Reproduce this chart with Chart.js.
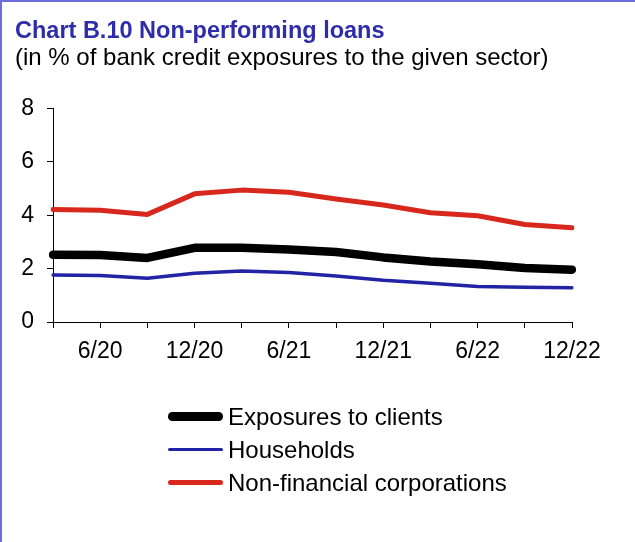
<!DOCTYPE html>
<html>
<head>
<meta charset="utf-8">
<title>Chart B.10 Non-performing loans</title>
<script src="https://cdn.jsdelivr.net/npm/chart.js@4/dist/chart.umd.min.js"></script>
<style>
    body { margin: 0; background: #fff; }
    #wrap { position: relative; width: 635px; height: 542px; overflow: hidden; }
    #chart { position: absolute; left: 0; top: 0; }
    #frame {
        position: absolute; left: 0; top: 0; width: 635px; height: 542px;
        box-sizing: border-box; border-left: 2px solid #6d6de0; border-top: 2px solid #6d6de0;
        pointer-events: none;
    }
    #legend {
        position: absolute; left: 168px; top: 400px;
        font-family: "Liberation Sans", Arial, sans-serif; font-size: 24px; color: #000;
    }
    .legend-row { display: flex; align-items: center; height: 33px; line-height: 33px; }
    .legend-line { width: 55px; margin-right: 5px; }
</style>
</head>
<body>
<div id="wrap">
    <canvas id="chart" width="635" height="542"></canvas>
    <div id="legend"></div>
    <div id="frame"></div>
</div>
<script>
// quarterly data, 3/20 .. 12/22
const periods = ['3/20', '6/20', '9/20', '12/20', '3/21', '6/21', '9/21', '12/21', '3/22', '6/22', '9/22', '12/22'];
const shownLabels = ['6/20', '12/20', '6/21', '12/21', '6/22', '12/22'];
const exposures = [2.52, 2.51, 2.40, 2.78, 2.78, 2.72, 2.62, 2.42, 2.27, 2.16, 2.02, 1.96];
const households = [1.76, 1.74, 1.64, 1.83, 1.91, 1.85, 1.72, 1.56, 1.45, 1.33, 1.30, 1.28];
const corporations = [4.21, 4.19, 4.03, 4.80, 4.94, 4.86, 4.61, 4.38, 4.09, 3.98, 3.65, 3.53];
const yTicks = [0, 2, 4, 6, 8];

const font = '"Liberation Sans", Arial, sans-serif';

function series(label, data, color, width) {
    return {
        label: label,
        data: data,
        borderColor: color,
        backgroundColor: color,
        borderWidth: width,
        borderCapStyle: 'round',
        borderJoinStyle: 'round',
        pointRadius: 0,
        tension: 0,
        fill: false
    };
}

const chart = new Chart(document.getElementById('chart'), {
    type: 'line',
    data: {
        labels: periods,
        datasets: [
            series('Exposures to clients', exposures, '#000000', 8.5),
            series('Households', households, '#2323a6', 3.5),
            series('Non-financial corporations', corporations, '#d8281e', 5)
        ]
    },
    options: {
        responsive: false,
        animation: false,
        devicePixelRatio: 1,
        layout: { padding: { left: 15, right: 63, top: 0, bottom: 180 } },
        plugins: {
            legend: { display: false },
            tooltip: { enabled: false },
            title: {
                display: true,
                text: 'Chart B.10 Non-performing loans',
                align: 'start',
                color: '#2d2daa',
                font: { family: font, size: 23.5, weight: 'bold', lineHeight: 1.15 },
                padding: { top: 18, bottom: 0 }
            },
            subtitle: {
                display: true,
                text: '(in % of bank credit exposures to the given sector)',
                align: 'start',
                color: '#000',
                font: { family: font, size: 24, lineHeight: 1.15 },
                padding: { top: 0, bottom: 35.8 }
            }
        },
        scales: {
            x: {
                afterFit: (s) => { s.height = 40; },
                border: { display: true, color: '#000', width: 1 },
                grid: { drawOnChartArea: false, drawTicks: true, tickLength: 6, color: '#000', lineWidth: 1 },
                ticks: {
                    autoSkip: false,
                    maxRotation: 0,
                    padding: 10,
                    color: '#000',
                    font: { family: font, size: 23 },
                    callback: function(value) {
                        const label = this.getLabelForValue(value);
                        return shownLabels.includes(label) ? label : '';
                    }
                }
            },
            y: {
                min: 0,
                max: 8,
                afterFit: (s) => { s.width = 38; },
                afterBuildTicks: (s) => { s.ticks = yTicks.map(v => ({ value: v })); },
                border: { display: true, color: '#000', width: 1 },
                grid: { drawOnChartArea: false, drawTicks: true, tickLength: 6, color: '#000', lineWidth: 1 },
                ticks: {
                    padding: 13,
                    color: '#000',
                    font: { family: font, size: 23 }
                }
            }
        }
    }
});

// legend rows below the plot, built from the datasets
const legend = document.getElementById('legend');
chart.data.datasets.forEach(ds => {
    const row = document.createElement('div');
    row.className = 'legend-row';
    const line = document.createElement('div');
    line.className = 'legend-line';
    line.style.height = ds.borderWidth + 'px';
    line.style.borderRadius = (ds.borderWidth / 2) + 'px';
    line.style.background = ds.borderColor;
    const text = document.createElement('span');
    text.textContent = ds.label;
    row.appendChild(line);
    row.appendChild(text);
    legend.appendChild(row);
});
</script>
</body>
</html>
